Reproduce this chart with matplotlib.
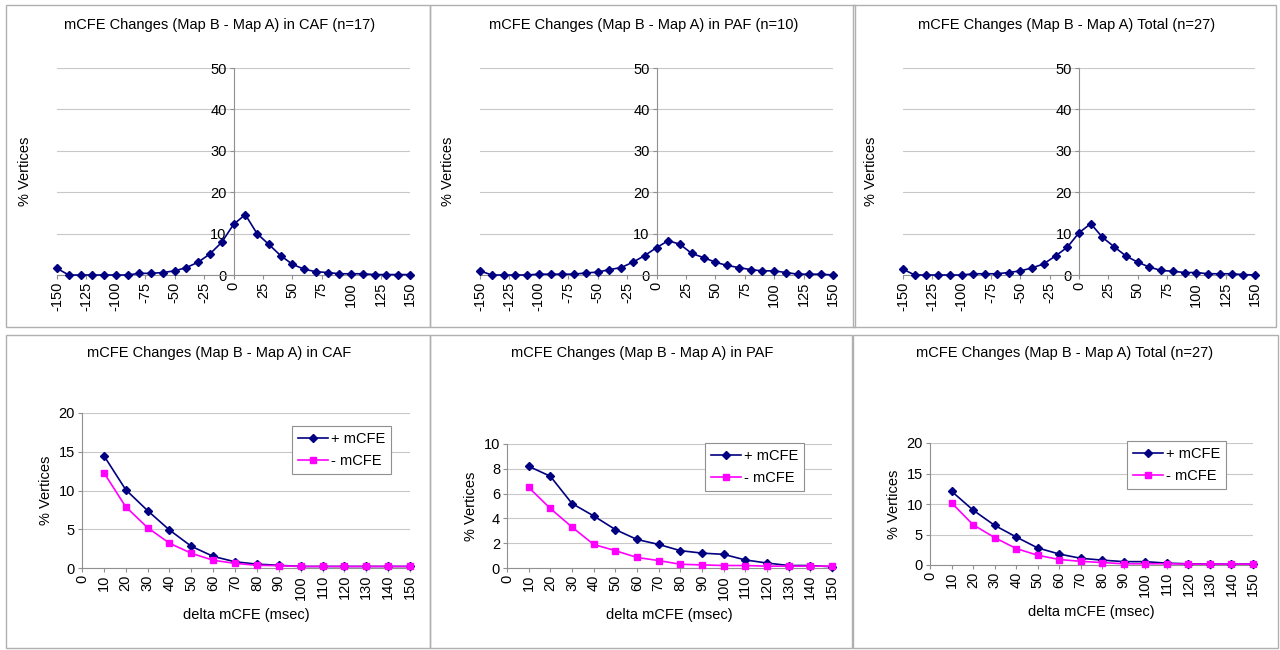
import numpy as np
import matplotlib
matplotlib.use("Agg")
import matplotlib.pyplot as plt
from matplotlib.patches import Rectangle

plt.rcParams['font.family'] = ['Liberation Sans', 'DejaVu Sans']

W, H = 1280, 650
FS = 10.5

# top row: distribution of mCFE change, -150..150 msec
delta_all = [-150, -140, -130, -120, -110, -100, -90, -80, -70, -60, -50, -40, -30, -20, -10,
             0, 10, 20, 30, 40, 50, 60, 70, 80, 90, 100, 110, 120, 130, 140, 150]
caf_all = [1.6, 0, 0, 0, 0, 0, 0, 0.4, 0.4, 0.6, 1.0, 1.8, 3.1, 5.1, 7.9,
           12.2, 14.6, 10.0, 7.4, 4.7, 2.6, 1.4, 0.8, 0.6, 0.3, 0.3, 0.3, 0.1, 0.1, 0.1, 0.1]
paf_all = [1.0, 0, 0, 0, 0, 0.2, 0.2, 0.2, 0.2, 0.5, 0.7, 1.3, 1.8, 3.1, 4.7,
           6.6, 8.3, 7.4, 5.2, 4.2, 3.1, 2.3, 1.8, 1.3, 1.0, 1.0, 0.6, 0.2, 0.2, 0.2, 0]
tot_all = [1.4, 0, 0, 0, 0, 0, 0.3, 0.3, 0.3, 0.6, 1.0, 1.7, 2.7, 4.6, 6.7,
           10.2, 12.4, 9.1, 6.8, 4.6, 3.1, 1.9, 1.1, 0.9, 0.6, 0.6, 0.3, 0.3, 0.3, 0.1, 0]
top_xticks = [-150, -125, -100, -75, -50, -25, 0, 25, 50, 75, 100, 125, 150]
top_yticks = [0, 10, 20, 30, 40, 50]

# bottom row: +/- mCFE, 10..150 msec
delta_abs = [10, 20, 30, 40, 50, 60, 70, 80, 90, 100, 110, 120, 130, 140, 150]
caf_pos = [14.5, 10.1, 7.4, 4.9, 2.8, 1.5, 0.8, 0.5, 0.35, 0.2, 0.2, 0.2, 0.2, 0.2, 0.2]
caf_neg = [12.3, 7.9, 5.2, 3.2, 1.9, 1.0, 0.6, 0.35, 0.3, 0.2, 0.2, 0.2, 0.2, 0.2, 0.2]
paf_pos = [8.2, 7.4, 5.2, 4.2, 3.1, 2.3, 1.9, 1.4, 1.2, 1.1, 0.65, 0.4, 0.2, 0.2, 0.1]
paf_neg = [6.5, 4.8, 3.3, 1.9, 1.4, 0.85, 0.6, 0.3, 0.25, 0.2, 0.2, 0.15, 0.15, 0.15, 0.15]
tot_pos = [12.1, 9.0, 6.5, 4.6, 2.8, 1.8, 1.1, 0.8, 0.55, 0.55, 0.3, 0.2, 0.15, 0.15, 0.15]
tot_neg = [10.2, 6.6, 4.5, 2.7, 1.6, 0.9, 0.6, 0.4, 0.2, 0.2, 0.2, 0.15, 0.15, 0.15, 0.15]
bottom_xticks = [0, 10, 20, 30, 40, 50, 60, 70, 80, 90, 100, 110, 120, 130, 140, 150]

NAVY = '#000080'
MAGENTA = '#FF00FF'
GRID = '#c8c8c8'
AXIS = '#909090'


def px_axes(fig, left, right, top, bottom):
    return fig.add_axes([left / W, 1 - bottom / H, (right - left) / W, (bottom - top) / H])


def box(fig, left, right, top, bottom):
    fig.patches.append(Rectangle((left / W, 1 - bottom / H), (right - left) / W, (bottom - top) / H,
                                 transform=fig.transFigure, fill=False, edgecolor='#b0b0b0', lw=1))


def style_axes(ax):
    for s in ['top', 'right']:
        ax.spines[s].set_visible(False)
    ax.spines['left'].set_color(AXIS)
    ax.spines['bottom'].set_color(AXIS)
    ax.spines['left'].set_linewidth(0.8)
    ax.spines['bottom'].set_linewidth(0.8)
    ax.tick_params(colors=AXIS, labelcolor='black', labelsize=FS, length=3, width=0.8, pad=2)
    ax.grid(axis='y', color=GRID, lw=0.8)
    ax.set_axisbelow(True)


fig = plt.figure(figsize=(W / 100, H / 100), dpi=100)

# panel frames
box(fig, 6, 430, 5, 327)
box(fig, 430, 855, 5, 327)
box(fig, 853, 1276, 5, 327)
box(fig, 6, 430, 335, 648)
box(fig, 430, 852, 335, 648)
box(fig, 853, 1278, 335, 648)

# top row
top_panels = [
    (57, 410, caf_all, 'mCFE Changes (Map B - Map A) in CAF (n=17)', 220),
    (480, 833, paf_all, 'mCFE Changes (Map B - Map A) in PAF (n=10)', 644),
    (903, 1255, tot_all, 'mCFE Changes (Map B - Map A) Total (n=27)', 1067),
]
for left, right, vals, title, cx in top_panels:
    ax = px_axes(fig, left, right, 68, 275)
    style_axes(ax)
    ax.plot(delta_all, vals, color=NAVY, lw=1.2, marker='D', ms=4.2, clip_on=False, zorder=3)
    ax.set_xlim(-150, 150)
    ax.set_ylim(0, 50)
    ax.spines['left'].set_position(('data', 0))
    ax.set_xticks(top_xticks)
    ax.set_xticklabels([str(t) for t in top_xticks], rotation=90)
    ax.set_yticks(top_yticks)
    ax.set_ylabel('% Vertices', fontsize=FS)
    ax.yaxis.set_label_coords(-0.07, 0.5)
    fig.text(cx / W, 1 - 25 / H, title, ha='center', va='center', fontsize=FS)

# bottom row
bottom_panels = [
    (82, 410, 568, 413, 20, [0, 5, 10, 15, 20], caf_pos, caf_neg,
     'mCFE Changes (Map B - Map A) in CAF', 219, (292, 426)),
    (507, 832, 568, 444, 10, [0, 2, 4, 6, 8, 10], paf_pos, paf_neg,
     'mCFE Changes (Map B - Map A) in PAF', 642, (705, 443)),
    (930, 1253, 565, 443, 20, [0, 5, 10, 15, 20], tot_pos, tot_neg,
     'mCFE Changes (Map B - Map A) Total (n=27)', 1065, (1127, 441)),
]
for left, right, y0, y1, ymax, yt, pos, neg, title, cx, lg in bottom_panels:
    ax = px_axes(fig, left, right, y1, y0)
    style_axes(ax)
    ax.plot(delta_abs, pos, color=NAVY, lw=1.2, marker='D', ms=4.2, clip_on=False, zorder=3,
            label='+ mCFE')
    ax.plot(delta_abs, neg, color=MAGENTA, lw=1.2, marker='s', ms=4.6, clip_on=False, zorder=3,
            label='- mCFE')
    ax.set_xlim(0, 150)
    ax.set_ylim(0, ymax)
    ax.set_xticks(bottom_xticks)
    ax.set_xticklabels([str(t) for t in bottom_xticks], rotation=90)
    ax.set_yticks(yt)
    ax.set_ylabel('% Vertices', fontsize=FS)
    ax.set_xlabel('delta mCFE (msec)', fontsize=FS, labelpad=6)
    fig.text(cx / W, 1 - 353 / H, title, ha='center', va='center', fontsize=FS)
    leg = ax.legend(loc='upper left', bbox_to_anchor=(lg[0] / W, 1 - lg[1] / H),
                    bbox_transform=fig.transFigure, borderaxespad=0, fontsize=FS,
                    fancybox=False, edgecolor='#909090', framealpha=1,
                    handlelength=2.1, handletextpad=0.2, borderpad=0.4, labelspacing=0.55)
    leg.get_frame().set_linewidth(0.8)

fig.savefig('out.png', dpi=100)
